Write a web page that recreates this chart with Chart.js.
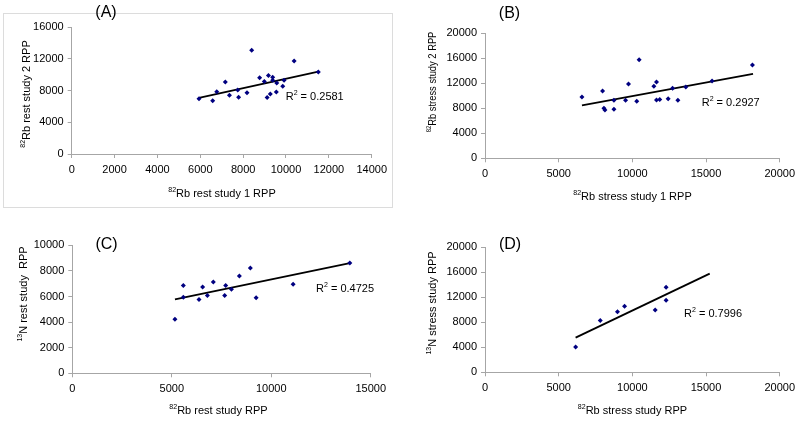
<!DOCTYPE html>
<html>
<head>
<meta charset="utf-8">
<script src="https://cdn.jsdelivr.net/npm/chart.js@4/dist/chart.umd.min.js"></script>
<style>
  body { margin: 0; background: #fff; }
  #wrap { position: relative; width: 800px; height: 423px; overflow: hidden; }
  #wrap canvas { position: absolute; left: 0; top: 0; }
  #frameA { position: absolute; left: 3px; top: 13px; width: 388px; height: 193px; border: 1px solid #dcdcdc; }
</style>
</head>
<body>
<div id="wrap">
  <div id="frameA"></div>
  <canvas id="chartA" width="800" height="423"></canvas>
  <canvas id="chartB" width="800" height="423"></canvas>
  <canvas id="chartC" width="800" height="423"></canvas>
  <canvas id="chartD" width="800" height="423"></canvas>
</div>
<script>
// ==========================================================================
// DATA
// ==========================================================================

// (A) 82Rb rest study 1 vs study 2
const restStudy1A = [5940, 6580, 6770, 7170, 7360, 7750, 7790, 8180, 8400, 8770, 8990, 9180, 9120, 9270, 9380, 9380, 9570, 9550, 9850, 9910, 10380, 11510];
const restStudy2A = [6990, 6740, 7870, 9100, 7410, 8080, 7160, 7750, 13100, 9640, 9140, 9900, 7120, 7580, 9680, 9300, 8970, 7830, 8550, 9300, 11750, 10360];
const trendXA = [5940, 11510];
const trendYA = [7100, 10400];

// (B) 82Rb stress study 1 vs study 2
const stressStudy1B = [6580, 7980, 8070, 8140, 8750, 8750, 9540, 9740, 10300, 10460, 11460, 11640, 11640, 11860, 12430, 12730, 13090, 13630, 15410, 18150];
const stressStudy2B = [9810, 10770, 8000, 7730, 9280, 7840, 9280, 11890, 9120, 15780, 11520, 12210, 9330, 9400, 9540, 11200, 9280, 11400, 12370, 14930];
const trendXB = [6580, 18190];
const trendYB = [8480, 13490];

// (C) 82Rb rest vs 13N rest
const rbRestC = [5160, 5580, 5580, 6370, 6550, 6790, 7090, 7660, 7710, 8000, 8400, 8950, 9240, 11100, 13950];
const nRestC = [4220, 6850, 5940, 5760, 6750, 6070, 7140, 6070, 6850, 6560, 7600, 8230, 5910, 6950, 8620];
const trendXC = [5160, 13950];
const trendYC = [5780, 8600];

// (D) 82Rb stress vs 13N stress
const rbStressD = [6150, 7820, 8990, 9470, 11550, 12290, 12290];
const nStressD = [4040, 8250, 9680, 10530, 9950, 11490, 13560];
const trendXD = [6150, 15250];
const trendYD = [5530, 15750];

// ==========================================================================
// DRAWING HELPERS
// ==========================================================================
const FONT = '"Liberation Sans", Arial, sans-serif';
const AXIS_GRAY = '#a6a6a6';
const X_AXIS_H = 30;
const Y_AXIS_W = 40;

// draws "sup" as superscript followed by main text, centred on (cx, cy)
function drawSupLabel(ctx, sup, main, cx, cy, size, rotate, squeeze) {
    ctx.save();
    ctx.translate(cx, cy);
    if (rotate) ctx.rotate(-Math.PI / 2);
    if (squeeze) ctx.scale(squeeze, 1);
    ctx.fillStyle = '#000';
    ctx.textBaseline = 'middle';
    ctx.textAlign = 'left';
    ctx.font = `${size * 0.64}px ${FONT}`;
    const wSup = ctx.measureText(sup).width;
    ctx.font = `${size}px ${FONT}`;
    const wMain = ctx.measureText(main).width;
    const x0 = -(wSup + wMain) / 2;
    ctx.font = `${size * 0.64}px ${FONT}`;
    ctx.fillText(sup, x0, -size * 0.32);
    ctx.font = `${size}px ${FONT}`;
    ctx.fillText(main, x0 + wSup, 0);
    ctx.restore();
}

// "R² = value", left aligned
function drawR2(ctx, value, x, y, size) {
    ctx.save();
    ctx.fillStyle = '#000';
    ctx.textBaseline = 'middle';
    ctx.textAlign = 'left';
    ctx.font = `${size}px ${FONT}`;
    ctx.fillText('R', x, y);
    const wR = ctx.measureText('R').width;
    ctx.font = `${size * 0.64}px ${FONT}`;
    ctx.fillText('2', x + wR, y - size * 0.32);
    const w2 = ctx.measureText('2').width;
    ctx.font = `${size}px ${FONT}`;
    ctx.fillText(' = ' + value, x + wR + w2, y);
    ctx.restore();
}

const panelTextPlugin = {
    id: 'panelText',
    afterDraw(chart, args, opts) {
        const ctx = chart.ctx;
        ctx.save();
        ctx.fillStyle = '#000';
        ctx.font = `16px ${FONT}`;
        ctx.textAlign = 'center';
        ctx.textBaseline = 'middle';
        ctx.fillText(opts.letter, opts.letterPos[0], opts.letterPos[1]);
        ctx.restore();
        drawSupLabel(ctx, opts.xSup, opts.xTitle, opts.xTitlePos[0], opts.xTitlePos[1], 11, false);
        drawSupLabel(ctx, opts.ySup, opts.yTitle, opts.yTitlePos[0], opts.yTitlePos[1], 11, true, opts.ySqueeze);
        drawR2(ctx, opts.r2, opts.r2Pos[0], opts.r2Pos[1], 11);
    }
};

function makePanel(canvasId, xs, ys, trendX, trendY, cfg) {
    const ctx = document.getElementById(canvasId).getContext('2d');
    const points = xs.map((x, i) => ({ x: x, y: ys[i] }));
    const trend = trendX.map((x, i) => ({ x: x, y: trendY[i] }));
    const area = cfg.area;

    const axisOpts = (max, step, isX) => ({
        type: 'linear',
        min: 0,
        max: max,
        afterFit: s => { if (isX) s.height = X_AXIS_H; else s.width = Y_AXIS_W; },
        ticks: {
            stepSize: step,
            color: '#000',
            padding: isX ? 5 : 4,
            font: { size: 11, family: FONT },
            callback: v => String(v)
        },
        grid: { drawOnChartArea: false, drawTicks: true, tickLength: 4, color: AXIS_GRAY },
        border: { display: true, color: AXIS_GRAY, width: 1 }
    });

    return new Chart(ctx, {
        type: 'scatter',
        data: {
            datasets: [{
                data: points,
                pointStyle: 'rectRot',
                pointRadius: 2.5,
                backgroundColor: '#000080',
                borderColor: '#000080',
                borderWidth: 0
            }, {
                data: trend,
                showLine: true,
                borderColor: '#000',
                borderWidth: 1.8,
                pointRadius: 0,
                fill: false
            }]
        },
        options: {
            responsive: false,
            animation: false,
            layout: {
                padding: {
                    left: area[0] - Y_AXIS_W,
                    top: area[1],
                    right: 800 - area[2],
                    bottom: 423 - area[3] - X_AXIS_H
                }
            },
            plugins: {
                legend: { display: false },
                tooltip: { enabled: false },
                panelText: cfg.text
            },
            scales: {
                x: axisOpts(cfg.xMax, cfg.xStep, true),
                y: axisOpts(cfg.yMax, cfg.yStep, false)
            }
        },
        plugins: [panelTextPlugin]
    });
}

// ==========================================================================
// PANELS
// ==========================================================================
makePanel('chartA', restStudy1A, restStudy2A, trendXA, trendYA, {
    area: [71.7, 27.3, 371.7, 154],
    xMax: 14000, xStep: 2000, yMax: 16000, yStep: 4000,
    text: {
        letter: '(A)', letterPos: [106, 13],
        xSup: '82', xTitle: 'Rb rest study 1 RPP', xTitlePos: [222, 194],
        ySup: '82', yTitle: 'Rb rest study 2 RPP', yTitlePos: [27, 94],
        r2: '0.2581', r2Pos: [285.7, 96.7]
    }
});

makePanel('chartB', stressStudy1B, stressStudy2B, trendXB, trendYB, {
    area: [485, 33.3, 780, 158.3],
    xMax: 20000, xStep: 5000, yMax: 20000, yStep: 4000,
    text: {
        letter: '(B)', letterPos: [509.5, 13.5],
        xSup: '82', xTitle: 'Rb stress study 1 RPP', xTitlePos: [632.5, 196.7],
        ySup: '82', yTitle: 'Rb stress study 2 RPP', yTitlePos: [433, 82], ySqueeze: 0.85,
        r2: '0.2927', r2Pos: [701.7, 102.7]
    }
});

makePanel('chartC', rbRestC, nRestC, trendXC, trendYC, {
    area: [72.3, 245.3, 370.7, 373.3],
    xMax: 15000, xStep: 5000, yMax: 10000, yStep: 2000,
    text: {
        letter: '(C)', letterPos: [106.5, 245],
        xSup: '82', xTitle: 'Rb rest study RPP', xTitlePos: [218.5, 411],
        ySup: '13', yTitle: 'N rest study  RPP', yTitlePos: [24, 294],
        r2: '0.4725', r2Pos: [316, 288.7]
    }
});

makePanel('chartD', rbStressD, nStressD, trendXD, trendYD, {
    area: [485, 247, 780, 372.3],
    xMax: 20000, xStep: 5000, yMax: 20000, yStep: 4000,
    text: {
        letter: '(D)', letterPos: [510, 245],
        xSup: '82', xTitle: 'Rb stress study RPP', xTitlePos: [632.5, 411],
        ySup: '13', yTitle: 'N stress study RPP', yTitlePos: [433, 303],
        r2: '0.7996', r2Pos: [684, 313.7]
    }
});
</script>
</body>
</html>
